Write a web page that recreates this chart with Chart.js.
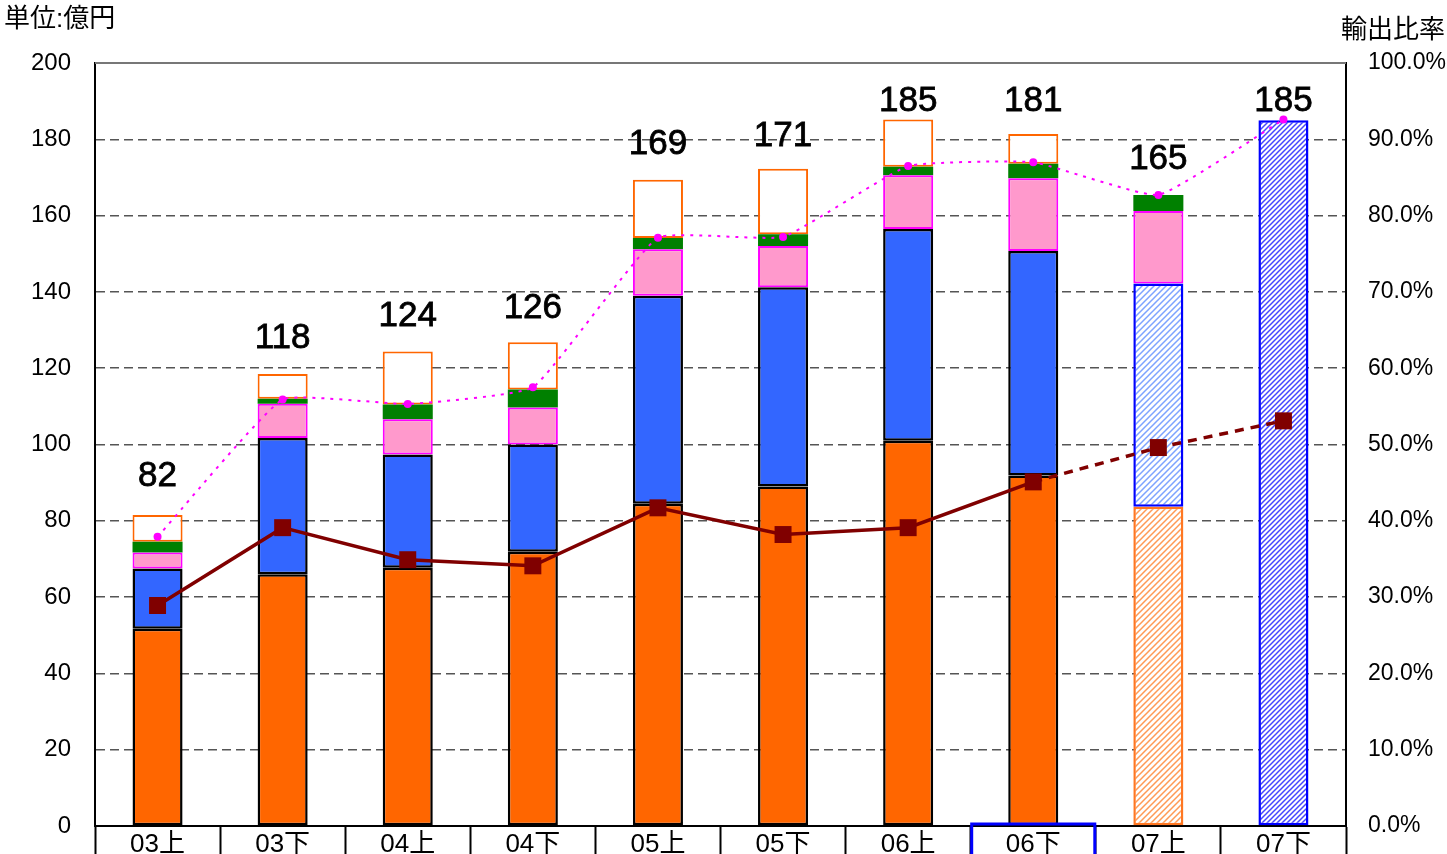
<!DOCTYPE html>
<html>
<head>
<meta charset="utf-8">
<script src="https://cdn.jsdelivr.net/npm/chart.js@4/dist/chart.umd.min.js"></script>
<style>
  body { margin: 0; background: #fff; }
  #wrap { position: relative; width: 1447px; height: 854px; overflow: hidden; }
  canvas { position: absolute; left: 0; top: 0; }
</style>
</head>
<body>
<div id="wrap"><canvas id="chart" width="1447" height="854"></canvas></div>
<script>
// categories (half years)
const labels = ['03上', '03下', '04上', '04下', '05上', '05下', '06上', '06下', '07上', '07下'];

// stacked bar segments (億円)
const orangeVals = [51.7, 66.0, 67.7, 71.9, 84.5, 89.0, 101.0, 91.9, 83.7, null];
const blueVals   = [15.8, 35.7, 29.7, 28.1, 54.5, 52.2, 55.5, 58.8, 58.5, 185];
const pinkVals   = [4.2, 9.0, 9.2, 9.7, 12.2, 10.8, 14.1, 19.1, 19.0, null];
const greenVals  = [2.8, 1.3, 3.9, 4.7, 2.9, 3.1, 2.2, 3.8, 4.2, null];
const restVals   = [7.0, 6.5, 13.9, 12.4, 15.3, 17.2, 12.4, 7.8, null, null];

// totals shown above the bars
const totals = [82, 118, 124, 126, 169, 171, 185, 181, 165, 185];

// ratio lines (%)
const exportRatio = [28.9, 39.1, 34.9, 34.1, 41.7, 38.2, 39.1, 45.1, 49.6, 53.1];
const pinkRatio   = [37.9, 55.9, 55.3, 57.5, 77.1, 77.2, 86.5, 87.0, 82.7, 92.6];

// tick settings
const leftTicks = { min: 0, max: 200, step: 20 };
const rightTicks = { min: 0, max: 100, step: 10 };

const FONT = "'Liberation Sans', 'Noto Sans CJK JP', Arial, sans-serif";

function hatch(lineColor, size, width) {
  const c = document.createElement('canvas');
  c.width = size; c.height = size;
  const g = c.getContext('2d');
  g.fillStyle = '#fff';
  g.fillRect(0, 0, size, size);
  g.strokeStyle = lineColor;
  g.lineWidth = width;
  g.beginPath();
  g.moveTo(0, size); g.lineTo(size, 0);
  g.moveTo(-1, 1); g.lineTo(1, -1);
  g.moveTo(size - 1, size + 1); g.lineTo(size + 1, size - 1);
  g.stroke();
  return g.createPattern(c, 'repeat');
}

const ctx = document.getElementById('chart').getContext('2d');
const orangeHatch = hatch('#ff9a55', 6, 1.5);
const blueHatchLight = hatch('#7da3ff', 6, 1.5);
const blueHatchDark = hatch('#4646ff', 5, 1.5);

const orangeBg = labels.map((l, i) => i === 8 ? orangeHatch : '#ff6600');
const orangeBd = labels.map((l, i) => i === 8 ? '#ff7722' : '#000');
const blueBg = labels.map((l, i) => i === 8 ? blueHatchLight : (i === 9 ? blueHatchDark : '#3366ff'));
const blueBd = labels.map((l, i) => i >= 8 ? '#0000ff' : '#000');

const barCommon = { type: 'bar', yAxisID: 'y', stack: 's', order: 2, barPercentage: 0.8, categoryPercentage: 0.5, borderSkipped: false };

// extra drawing: frame, value labels, unit captions, highlight box
const extras = {
  id: 'extras',
  beforeDatasetsDraw(chart) {
    const { ctx, chartArea: a } = chart;
    ctx.save();
    ctx.strokeStyle = '#777';
    ctx.lineWidth = 2;
    ctx.beginPath();
    ctx.moveTo(a.left, a.top); ctx.lineTo(a.right, a.top);
    ctx.stroke();
    ctx.restore();
  },
  afterDraw(chart) {
    const { ctx, scales: { x, y } } = chart;
    ctx.save();
    ctx.fillStyle = '#000';
    ctx.strokeStyle = '#000';
    ctx.lineWidth = 0.8;
    ctx.font = '35px ' + FONT;
    ctx.textAlign = 'center';
    ctx.textBaseline = 'middle';
    totals.forEach((t, i) => {
      const top = y.getPixelForValue(t);
      const py = Math.max(top - 37, 101);
      ctx.fillText(String(t), x.getPixelForValue(i), py);
      ctx.strokeText(String(t), x.getPixelForValue(i), py);
    });
    ctx.font = '26px ' + FONT;
    ctx.textAlign = 'left';
    ctx.fillText('単位:億円', 4, 20);
    ctx.textAlign = 'right';
    ctx.fillText('輸出比率', 1445, 31);
    // highlighted category box
    const w = (x.right - x.left) / labels.length;
    const cx = x.getPixelForValue(7);
    ctx.strokeStyle = '#0000ff';
    ctx.lineWidth = 3;
    ctx.beginPath();
    ctx.moveTo(cx - w / 2 + 1, 860);
    ctx.lineTo(cx - w / 2 + 1, y.bottom - 2);
    ctx.lineTo(cx + w / 2 - 1, y.bottom - 2);
    ctx.lineTo(cx + w / 2 - 1, 860);
    ctx.stroke();
    ctx.restore();
  }
};

const noPad = s => { s.paddingTop = 0; s.paddingBottom = 0; };

new Chart(ctx, {
  data: {
    labels: labels,
    datasets: [
      { ...barCommon, label: 'orange', data: orangeVals, backgroundColor: orangeBg, borderColor: orangeBd, borderWidth: 2.5 },
      { ...barCommon, label: 'blue', data: blueVals, backgroundColor: blueBg, borderColor: blueBd, borderWidth: 2.5 },
      { ...barCommon, label: 'pink', data: pinkVals, backgroundColor: '#ff99cc', borderColor: '#ff00ff', borderWidth: 2 },
      { ...barCommon, label: 'green', data: greenVals, backgroundColor: '#008000', borderColor: '#008000', borderWidth: 0 },
      { ...barCommon, label: 'rest', data: restVals, backgroundColor: '#ffffff', borderColor: '#ff6600', borderWidth: 2 },
      {
        type: 'line', label: 'ratio2', data: pinkRatio, yAxisID: 'y2', order: 1,
        borderColor: '#ff00ff', borderWidth: 2, borderDash: [3, 6],
        pointRadius: 4, pointBackgroundColor: '#ff00ff', pointBorderWidth: 0,
        tension: 0.12
      },
      {
        type: 'line', label: 'ratio', data: exportRatio, yAxisID: 'y2', order: 0,
        borderColor: '#800000', borderWidth: 3.5,
        pointStyle: 'rect', pointRadius: 12, pointBackgroundColor: '#800000', pointBorderWidth: 0,
        segment: { borderDash: c => c.p0DataIndex >= 7 ? [9, 7] : undefined }
      }
    ]
  },
  options: {
    responsive: false,
    animation: false,
    layout: { padding: { top: 63, left: 0, right: 0, bottom: 0 } },
    plugins: { legend: { display: false }, tooltip: { enabled: false } },
    scales: {
      x: {
        stacked: true,
        afterFit: s => { s.height = 28; s.paddingLeft = 0; s.paddingRight = 0; },
        grid: { offset: true, drawOnChartArea: false, drawTicks: true, tickLength: 30, tickColor: '#000', tickWidth: 2 },
        border: { color: '#000', width: 2 },
        ticks: { color: '#000', font: { family: FONT, size: 26 }, padding: -27, maxRotation: 0 }
      },
      y: {
        stacked: true, position: 'left',
        min: leftTicks.min, max: leftTicks.max,
        afterFit: s => { s.width = 95; noPad(s); },
        ticks: { stepSize: leftTicks.step, color: '#000', font: { family: FONT, size: 24 }, padding: 24 },
        grid: {
          drawTicks: false, lineWidth: 1.5,
          color: c => (c.tick && (c.tick.value === 0 || c.tick.value === 200)) ? 'rgba(0,0,0,0)' : '#555'
        },
        border: { color: '#000', width: 2, dash: [9, 5] }
      },
      y2: {
        position: 'right',
        min: rightTicks.min, max: rightTicks.max,
        afterFit: s => { s.width = 101; noPad(s); },
        ticks: { stepSize: rightTicks.step, color: '#000', font: { family: FONT, size: 23 }, padding: 22, callback: v => v.toFixed(1) + '%' },
        grid: { drawOnChartArea: false, drawTicks: false },
        border: { color: '#000', width: 2 }
      }
    }
  },
  plugins: [extras]
});
</script>
</body>
</html>
